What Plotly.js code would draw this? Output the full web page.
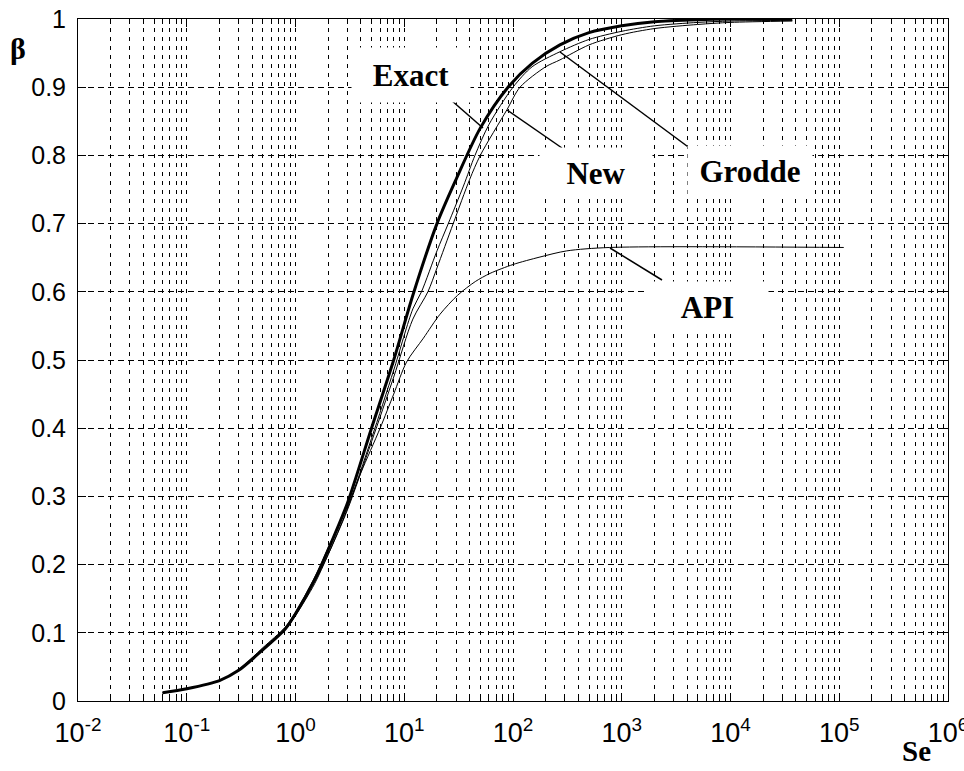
<!DOCTYPE html>
<html>
<head>
<meta charset="utf-8">
<script src="https://cdn.plot.ly/plotly-3.0.1.min.js"></script>
<style>html,body{margin:0;padding:0;background:#fff;}#chart{width:964px;height:771px;}</style>
</head>
<body>
<div id="chart"></div>
<script>
// ---- data ----
const seExact = [0.06,0.1,0.2,0.3,0.5,0.8,1,1.5,2,3,5,8,12,20,30,50,90,150,270,500,1000,2000,5000,10000,37000];
const betaExact = [0.012,0.018,0.03,0.045,0.075,0.105,0.128,0.178,0.222,0.29,0.40,0.50,0.595,0.70,0.765,0.84,0.90,0.935,0.962,0.98,0.99,0.996,0.999,1.0,1.0];

const seGrodde = [0.06,0.1,0.2,0.3,0.5,0.8,1,1.5,2,3,5,8,12,14.4,20,25.4,35,44.7,60,100,150,270,500,1000,2000,5000,10000,37000];
const betaGrodde = [0.012,0.018,0.03,0.045,0.076,0.104,0.125,0.172,0.215,0.282,0.385,0.485,0.575,0.60,0.66,0.70,0.755,0.80,0.845,0.90,0.93,0.952,0.97,0.982,0.99,0.995,0.997,0.998];

const seNew = [0.06,0.1,0.2,0.3,0.5,0.8,1,1.5,2,3,5,8,12,16.5,20,28.2,40,50,88,116,200,270,500,1000,2000,5000,10000,37000];
const betaNew = [0.012,0.018,0.03,0.045,0.076,0.104,0.126,0.175,0.215,0.28,0.38,0.475,0.56,0.60,0.635,0.70,0.765,0.80,0.867,0.90,0.93,0.94,0.962,0.977,0.986,0.992,0.995,0.997];

const seAPI = [0.06,0.1,0.2,0.3,0.5,0.8,1,1.6,2,3,4,6,8,10.5,15,21.3,31,45,61.5,100,177,312,776,110000];
const betaAPI = [0.012,0.018,0.03,0.046,0.078,0.108,0.13,0.19,0.225,0.285,0.335,0.40,0.45,0.497,0.532,0.567,0.595,0.615,0.627,0.64,0.651,0.66,0.665,0.665];

const xTickVals = [1e-2,1e-1,1e0,1e1,1e2,1e3,1e4,1e5,1e6];
const xTickText = ["10<sup>-2</sup>","10<sup>-1</sup>","10<sup>0</sup>","10<sup>1</sup>","10<sup>2</sup>","10<sup>3</sup>","10<sup>4</sup>","10<sup>5</sup>","10<sup>6</sup>"];
const yTickVals = [0,0.1,0.2,0.3,0.4,0.5,0.6,0.7,0.8,0.9,1];
const yTickText = ["0","0.1","0.2","0.3","0.4","0.5","0.6","0.7","0.8","0.9","1"];

const curveLabels = ["Exact","New","Grodde","API"];
const axisLabels = {x:"Se", y:"\u03b2"};

// ---- layout helpers (pixel -> paper) ----
const L = 78, R = 948, T = 19, B = 701;
const px = v => (v - L) / (R - L);
const py = v => (B - v) / (B - T);

const thin = {color:'#000', width:1, shape:'spline', smoothing:0.8};
const traces = [
  {x: seAPI, y: betaAPI, mode:'lines', line: thin, name:'API'},
  {x: seNew, y: betaNew, mode:'lines', line: thin, name:'New'},
  {x: seGrodde, y: betaGrodde, mode:'lines', line: thin, name:'Grodde'},
  {x: seExact, y: betaExact, mode:'lines', line:{color:'#000', width:3, shape:'spline', smoothing:0.8}, name:'Exact'}
];

const lblFont = {family:'Liberation Serif, Times New Roman, serif', size:31, color:'#000'};
function box(text, x0, x1, y0, y1) {
  return {text:'<b>'+text+'</b>', xref:'paper', yref:'paper', x:px((x0+x1)/2), y:py((y0+y1)/2),
    xanchor:'center', yanchor:'middle', showarrow:false, bgcolor:'#fff', borderpad:0,
    width:x1-x0, height:y1-y0, font:lblFont};
}
function leader(x0,y0,x1,y1){
  return {type:'line', xref:'paper', yref:'paper', x0:px(x0), y0:py(y0), x1:px(x1), y1:py(y1),
    line:{color:'#000', width:1.5}, layer:'above'};
}

const layout = {
  width:964, height:771,
  margin:{l:L, r:964-R, t:T, b:771-B},
  paper_bgcolor:'#fff', plot_bgcolor:'#fff',
  showlegend:false,
  font:{family:'Liberation Sans, Arial, sans-serif', size:25, color:'#000'},
  xaxis:{type:'log', range:[-2,6.00005], tickmode:'array', tickvals:xTickVals, ticktext:xTickText,
    tickfont:{family:'Liberation Sans, Arial, sans-serif', size:27, color:'#000'},
    ticklabeloverflow:'allow',
    showline:true, linecolor:'#000', linewidth:1, mirror:'ticks',
    ticks:'inside', ticklen:8, tickcolor:'#000',
    showgrid:true, gridcolor:'#000', gridwidth:1, griddash:'4px,5px',
    ticklabelstandoff:8, zeroline:false,
    minor:{dtick:'D1', ticks:'inside', ticklen:5, tickcolor:'#000', showgrid:true, gridcolor:'#000', gridwidth:1, griddash:'4px,5px'}
  },
  yaxis:{range:[0,1], tickmode:'array', tickvals:yTickVals, ticktext:yTickText,
    showline:true, linecolor:'#000', linewidth:1, mirror:'ticks',
    ticks:'inside', ticklen:8, tickcolor:'#000',
    showgrid:true, gridcolor:'#000', gridwidth:1, griddash:'6px,4px', zeroline:false,
    ticklabelstandoff:6
  },
  annotations:[
    box(curveLabels[0], 352, 470, 48, 102),
    box(curveLabels[1], 540, 652, 148, 198),
    box(curveLabels[2], 688, 812, 146, 197),
    box(curveLabels[3], 647, 768, 282, 333),
    {text:'<b>'+axisLabels.y+'</b>', xref:'paper', yref:'paper', x:px(18), y:py(49), xanchor:'center', yanchor:'middle', showarrow:false,
      font:{family:'Liberation Serif, Times New Roman, serif', size:30, color:'#000'}},
    {text:'<b>'+axisLabels.x+'</b>', xref:'paper', yref:'paper', x:px(916), y:py(769), xanchor:'center', yanchor:'bottom', showarrow:false,
      font:{family:'Liberation Serif, Times New Roman, serif', size:29, color:'#000'}}
  ],
  shapes:[
    leader(443,93,483,128),
    leader(507,110,562,148),
    leader(560,52,695,152),
    leader(610,248,662,280)
  ]
};

Plotly.newPlot('chart', traces, layout, {staticPlot:true, displayModeBar:false});
</script>
</body>
</html>
